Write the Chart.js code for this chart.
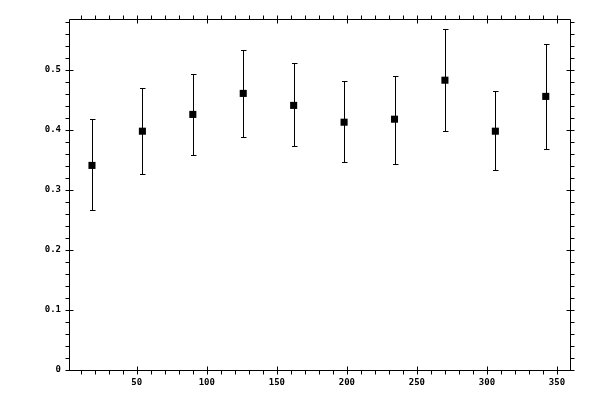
<!DOCTYPE html>
<html>
<head>
<meta charset="utf-8">
<script src="https://cdn.jsdelivr.net/npm/chart.js@4"></script>
<style>
  html, body { margin: 0; padding: 0; background: #fff; }
  #wrap { width: 600px; height: 400px; }
</style>
</head>
<body>
<div id="wrap"><canvas id="myChart" width="600" height="400"></canvas></div>
<script>
// data
const xs = [18, 54, 90, 126, 162, 198, 234, 270, 306, 342];
const ys = [0.341, 0.398, 0.426, 0.461, 0.441, 0.413, 0.418, 0.483, 0.398, 0.456];
const yLo = [0.266, 0.326, 0.358, 0.388, 0.373, 0.346, 0.344, 0.398, 0.333, 0.368];
const yHi = [0.418, 0.470, 0.493, 0.533, 0.512, 0.482, 0.490, 0.568, 0.465, 0.543];
const xTicks = [50, 100, 150, 200, 250, 300, 350];
const yTicks = [0, 0.1, 0.2, 0.3, 0.4, 0.5];

// error bars drawn with the scales
const errorBars = {
  id: 'errorBars',
  afterDatasetsDraw(chart) {
    const ctx = chart.ctx, x = chart.scales.x, y = chart.scales.y;
    ctx.save();
    ctx.strokeStyle = '#000';
    ctx.lineWidth = 1;
    xs.forEach((v, i) => {
      const px = Math.round(x.getPixelForValue(v)) + 0.5;
      const top = Math.round(y.getPixelForValue(yHi[i])) + 0.5;
      const bot = Math.round(y.getPixelForValue(yLo[i])) + 0.5;
      ctx.beginPath();
      ctx.moveTo(px, top); ctx.lineTo(px, bot);
      ctx.moveTo(px - 2.5, top); ctx.lineTo(px + 3, top);
      ctx.moveTo(px - 2.5, bot); ctx.lineTo(px + 3, bot);
      ctx.stroke();
    });
    ctx.restore();
  }
};

// frame with minor/major ticks on all four sides
const frameTicks = {
  id: 'frameTicks',
  afterDraw(chart) {
    const ctx = chart.ctx, x = chart.scales.x, y = chart.scales.y;
    const a = chart.chartArea;
    const L = Math.round(a.left) + 0.5, R = Math.round(a.right) + 0.5;
    const T = Math.round(a.top) + 0.5, B = Math.round(a.bottom) + 0.5;
    ctx.save();
    ctx.strokeStyle = '#000';
    ctx.lineWidth = 1;
    ctx.beginPath();
    ctx.rect(L, T, R - L, B - T);
    for (let v = 10; v <= 350; v += 10) {
      const px = Math.round(x.getPixelForValue(v)) + 0.5;
      const major = v % 50 === 0;
      ctx.moveTo(px, B + 4); ctx.lineTo(px, major ? B - 4 : B);
      ctx.moveTo(px, T - 4); ctx.lineTo(px, major ? T + 4 : T);
    }
    for (let k = 0; k <= 29; k++) {
      const v = k * 0.02;
      const py = Math.round(y.getPixelForValue(v)) + 0.5;
      const major = k % 5 === 0;
      ctx.moveTo(L - 4, py); ctx.lineTo(major ? L + 4 : L, py);
      ctx.moveTo(R + 4, py); ctx.lineTo(major ? R - 4 : R, py);
    }
    ctx.stroke();
    ctx.restore();
  }
};

const tickFont = { family: 'DejaVu Sans Mono', size: 9, weight: 'bold' };

new Chart('myChart', {
  type: 'scatter',
  data: {
    datasets: [{
      data: xs.map((v, i) => ({ x: v, y: ys[i] })),
      pointStyle: 'rect',
      pointRadius: 5,
      pointHoverRadius: 5,
      pointBorderWidth: 0,
      backgroundColor: '#000',
      borderColor: '#000'
    }]
  },
  options: {
    responsive: false,
    animation: false,
    events: [],
    layout: { padding: { top: 19, right: 30, left: 0, bottom: 0 } },
    plugins: { legend: { display: false }, tooltip: { enabled: false } },
    scales: {
      x: {
        type: 'linear',
        min: 1.6,
        max: 359.3,
        afterBuildTicks(s) { s.ticks = xTicks.map(v => ({ value: v })); },
        afterFit(s) { s.height = 30; },
        grid: { display: false, drawTicks: false },
        border: { display: false },
        ticks: { color: '#000', font: tickFont, padding: 7, maxRotation: 0, callback: v => String(v) }
      },
      y: {
        type: 'linear',
        min: 0,
        max: 0.585,
        afterBuildTicks(s) { s.ticks = yTicks.map(v => ({ value: v })); },
        afterFit(s) { s.width = 69; },
        grid: { display: false, drawTicks: false },
        border: { display: false },
        ticks: { color: '#000', font: tickFont, padding: 8, callback: v => String(Math.round(v * 10) / 10) }
      }
    }
  },
  plugins: [errorBars, frameTicks]
});
</script>
</body>
</html>
